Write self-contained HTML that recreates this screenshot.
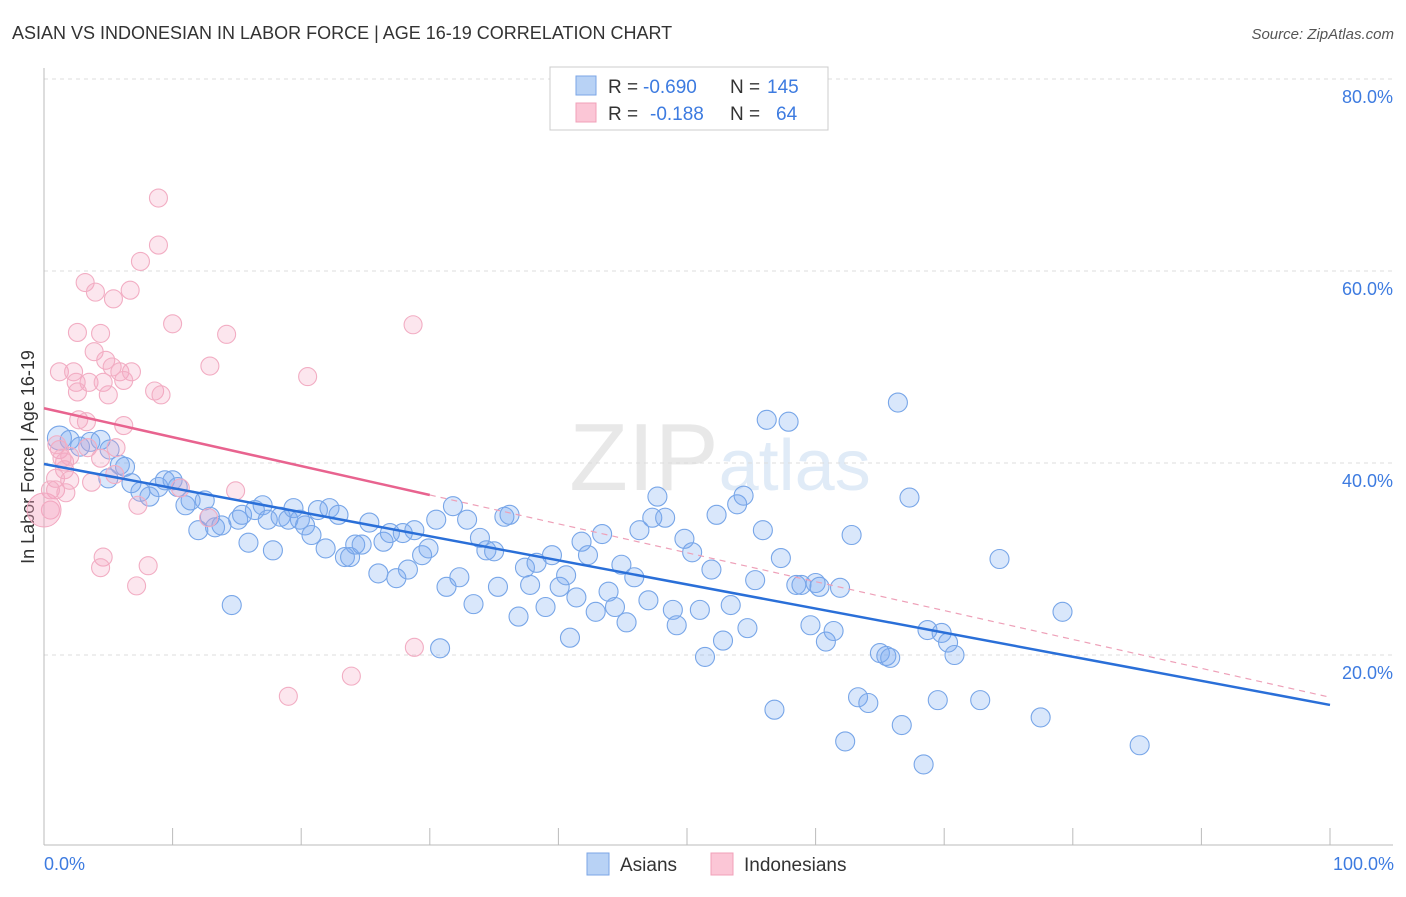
<!DOCTYPE html>
<html><head><meta charset="utf-8"><style>
body{margin:0;background:#fff;font-family:"Liberation Sans",sans-serif}
svg text{font-family:"Liberation Sans",sans-serif}
</style></head><body>
<svg id="c" width="1406" height="892">
<text x="12" y="39" font-size="18" fill="#333">ASIAN VS INDONESIAN IN LABOR FORCE | AGE 16-19 CORRELATION CHART</text>
<text x="1394" y="39" font-size="15" fill="#555" font-style="italic" text-anchor="end">Source: ZipAtlas.com</text>
<text x="720" y="490" font-size="96" fill="#e8e8e8" text-anchor="middle" font-family="Liberation Serif">ZIP<tspan fill="#e0ebf7" font-family="Liberation Sans" font-size="72">atlas</tspan></text>
<text transform="translate(34,457) rotate(-90)" font-size="18" fill="#333" text-anchor="middle">In Labor Force | Age 16-19</text>
<g id="grid"></g><g id="pts"></g><g id="lines"></g>
<g>
<rect x="550" y="67" width="278" height="63" fill="#fff" stroke="#ccc"/>
<rect x="576" y="76" width="20" height="19" fill="#b8d2f5" stroke="#7ba6e6"/>
<rect x="576" y="103" width="20" height="19" fill="#fbc6d6" stroke="#f0a0b8"/>
<text x="608" y="93" font-size="19" fill="#333">R =</text>
<text x="643" y="93" font-size="19" fill="#3d7be0">-0.690</text>
<text x="730" y="93" font-size="19" fill="#333">N =</text>
<text x="767" y="93" font-size="19" fill="#3d7be0">145</text>
<text x="608" y="120" font-size="19" fill="#333">R =</text>
<text x="650" y="120" font-size="19" fill="#3d7be0">-0.188</text>
<text x="730" y="120" font-size="19" fill="#333">N =</text>
<text x="776" y="120" font-size="19" fill="#3d7be0">64</text>
</g>
<rect x="587" y="853" width="22" height="22" fill="#b8d2f5" stroke="#7ba6e6"/>
<text x="620" y="871" font-size="19" fill="#333">Asians</text>
<rect x="711" y="853" width="22" height="22" fill="#fbc6d6" stroke="#f0a0b8"/>
<text x="744" y="871" font-size="19" fill="#333">Indonesians</text>
<text x="44" y="870" font-size="18" fill="#3d7be0">0.0%</text>
<text x="1394" y="870" font-size="18" fill="#3d7be0" text-anchor="end">100.0%</text>
</svg>
<script>
const yTicks=[20,40,60,80];
const yTickLabels=["20.0%","40.0%","60.0%","80.0%"];
const xTicks=[0,10,20,30,40,50,60,70,80,90,100];
const asianX=[1.2,2.0,2.8,3.6,4.4,5.1,5.9,6.3,5.0,6.8,7.5,8.2,8.9,9.4,10.0,10.4,11.0,11.4,12.0,12.5,12.9,13.3,13.8,14.6,15.1,15.4,15.9,16.4,17.0,17.4,17.8,18.4,19.0,19.4,19.9,20.3,20.8,21.3,21.9,22.2,22.9,23.4,23.8,24.2,24.7,25.3,26.0,26.4,26.9,27.4,27.9,28.3,28.8,29.4,29.9,30.5,30.8,31.3,31.8,32.3,32.9,33.4,33.9,34.4,35.0,35.3,35.8,36.2,36.9,37.4,37.8,38.3,39.0,39.5,40.1,40.6,40.9,41.4,41.8,42.3,42.9,43.4,43.9,44.4,44.9,45.3,45.9,46.3,47.0,47.3,47.7,48.3,48.9,49.2,49.8,50.4,51.0,51.4,51.9,52.3,52.8,53.4,53.9,54.4,54.7,55.3,55.9,56.2,56.8,57.3,57.9,58.5,58.9,59.6,60.0,60.3,60.8,61.4,61.9,62.3,62.8,63.3,64.1,65.0,65.5,65.8,66.4,66.7,67.3,68.4,68.7,69.5,69.8,70.3,70.8,72.8,74.3,77.5,79.2,85.2];
const asianY=[42.6,42.4,41.7,42.2,42.4,41.4,39.8,39.6,38.4,37.9,37.0,36.5,37.5,38.2,38.2,37.5,35.6,36.1,33.0,36.1,34.4,33.3,33.5,25.2,34.1,34.6,31.7,35.1,35.6,34.1,30.9,34.4,34.1,35.3,34.1,33.5,32.5,35.1,31.1,35.3,34.6,30.2,30.2,31.5,31.5,33.8,28.5,31.8,32.7,28.0,32.7,28.9,33.0,30.4,31.1,34.1,20.7,27.1,35.5,28.1,34.1,25.3,32.2,30.9,30.8,27.1,34.4,34.6,24.0,29.1,27.3,29.6,25.0,30.4,27.1,28.3,21.8,26.0,31.8,30.4,24.5,32.6,26.6,25.0,29.4,23.4,28.1,33.0,25.7,34.3,36.5,34.3,24.7,23.1,32.1,30.7,24.7,19.8,28.9,34.6,21.5,25.2,35.7,36.6,22.8,27.8,33.0,44.5,14.3,30.1,44.3,27.3,27.3,23.1,27.5,27.1,21.4,22.5,27.0,11.0,32.5,15.6,15.0,20.2,19.9,19.7,46.3,12.7,36.4,8.6,22.6,15.3,22.3,21.3,20.0,15.3,30.0,13.5,24.5,10.6];
const indoX=[8.9,8.9,7.5,3.2,4.0,5.4,6.7,10.0,14.2,2.6,4.4,3.9,4.8,28.7,12.9,1.2,2.3,2.5,3.5,5.3,5.9,6.8,6.2,4.6,2.6,5.0,8.6,9.1,20.5,2.7,3.3,6.2,5.6,1.2,1.6,2.0,3.4,1.6,4.4,0.9,0.5,0.9,1.7,3.7,7.3,0.5,14.9,12.8,4.6,4.4,8.1,7.2,28.8,23.9,19.0,1.0,1.4,2.0,5.5,10.6];
const indoY=[67.6,62.7,61.0,58.8,57.8,57.1,58.0,54.5,53.4,53.6,53.5,51.6,50.7,54.4,50.1,49.5,49.5,48.4,48.4,50.0,49.5,49.5,48.6,48.4,47.4,47.1,47.5,47.1,49.0,44.5,44.3,43.9,41.6,41.4,40.1,40.7,41.6,39.3,40.5,38.4,37.2,37.2,36.9,38.0,35.6,35.1,37.1,34.3,30.2,29.1,29.3,27.2,20.8,17.8,15.7,41.9,40.5,38.2,38.8,37.4];
const asianTrend=[39.9,14.8];
const indoTrend=[45.7,15.6];
const NS="http://www.w3.org/2000/svg";
const X=v=>44+v*12.86, Y=v=>847-v*9.6;
function mk(tag,attrs,parent){const e=document.createElementNS(NS,tag);for(const k in attrs)e.setAttribute(k,attrs[k]);parent.appendChild(e);return e;}
const g=document.getElementById('grid');
yTicks.forEach((t,i)=>{
 const l=mk('line',{x1:44,x2:1393,y1:Y(t),y2:Y(t),stroke:'#ddd','stroke-dasharray':'4,4'},g);
 
 
 const tx=mk('text',{x:1393,y:Y(t)+24,'font-size':18,fill:'#3d7be0','text-anchor':'end'},g);
 tx.textContent=yTickLabels[i];
 
 
});
const ax=mk('line',{x1:44,x2:44,y1:68,y2:845,stroke:'#bbb'},g);


const bx=mk('line',{x1:44,x2:1393,y1:845,y2:845,stroke:'#bbb'},g);


xTicks.forEach(t=>{const l=mk('line',{x1:X(t),x2:X(t),y1:828,y2:845,stroke:'#bbb'},g);
 
 });
const p=document.getElementById('pts');
asianX.forEach((v,i)=>{const c=mk('circle',{cx:X(v),cy:Y(asianY[i]),r:i==0?12:9.5,fill:'rgba(120,170,240,0.28)',stroke:'#78a6e8','stroke-width':1.1},p);
 
 });
indoX.forEach((v,i)=>{const c=mk('circle',{cx:X(v),cy:Y(indoY[i]),r:9,fill:'rgba(245,165,195,0.28)',stroke:'#f2adc3','stroke-width':1.1},p);
 
 });
const big=mk('circle',{cx:X(0),cy:Y(35.1),r:17,fill:'rgba(245,160,190,0.4)',stroke:'#f2a6bf'},p);


const L=document.getElementById('lines');
const bl=mk('line',{x1:X(0),y1:Y(asianTrend[0]),x2:X(100),y2:Y(asianTrend[1]),stroke:'#2a6fd8','stroke-width':2.5},L);


const pm=indoTrend[0]+(indoTrend[1]-indoTrend[0])*0.3;
const pl=mk('line',{x1:X(0),y1:Y(indoTrend[0]),x2:X(30),y2:Y(pm),stroke:'#e8638f','stroke-width':2.5},L);


const pd=mk('line',{x1:X(30),y1:Y(pm),x2:X(100),y2:Y(indoTrend[1]),stroke:'#eea0b8','stroke-width':1.2,'stroke-dasharray':'6,5'},L);


</script>
</body></html>
